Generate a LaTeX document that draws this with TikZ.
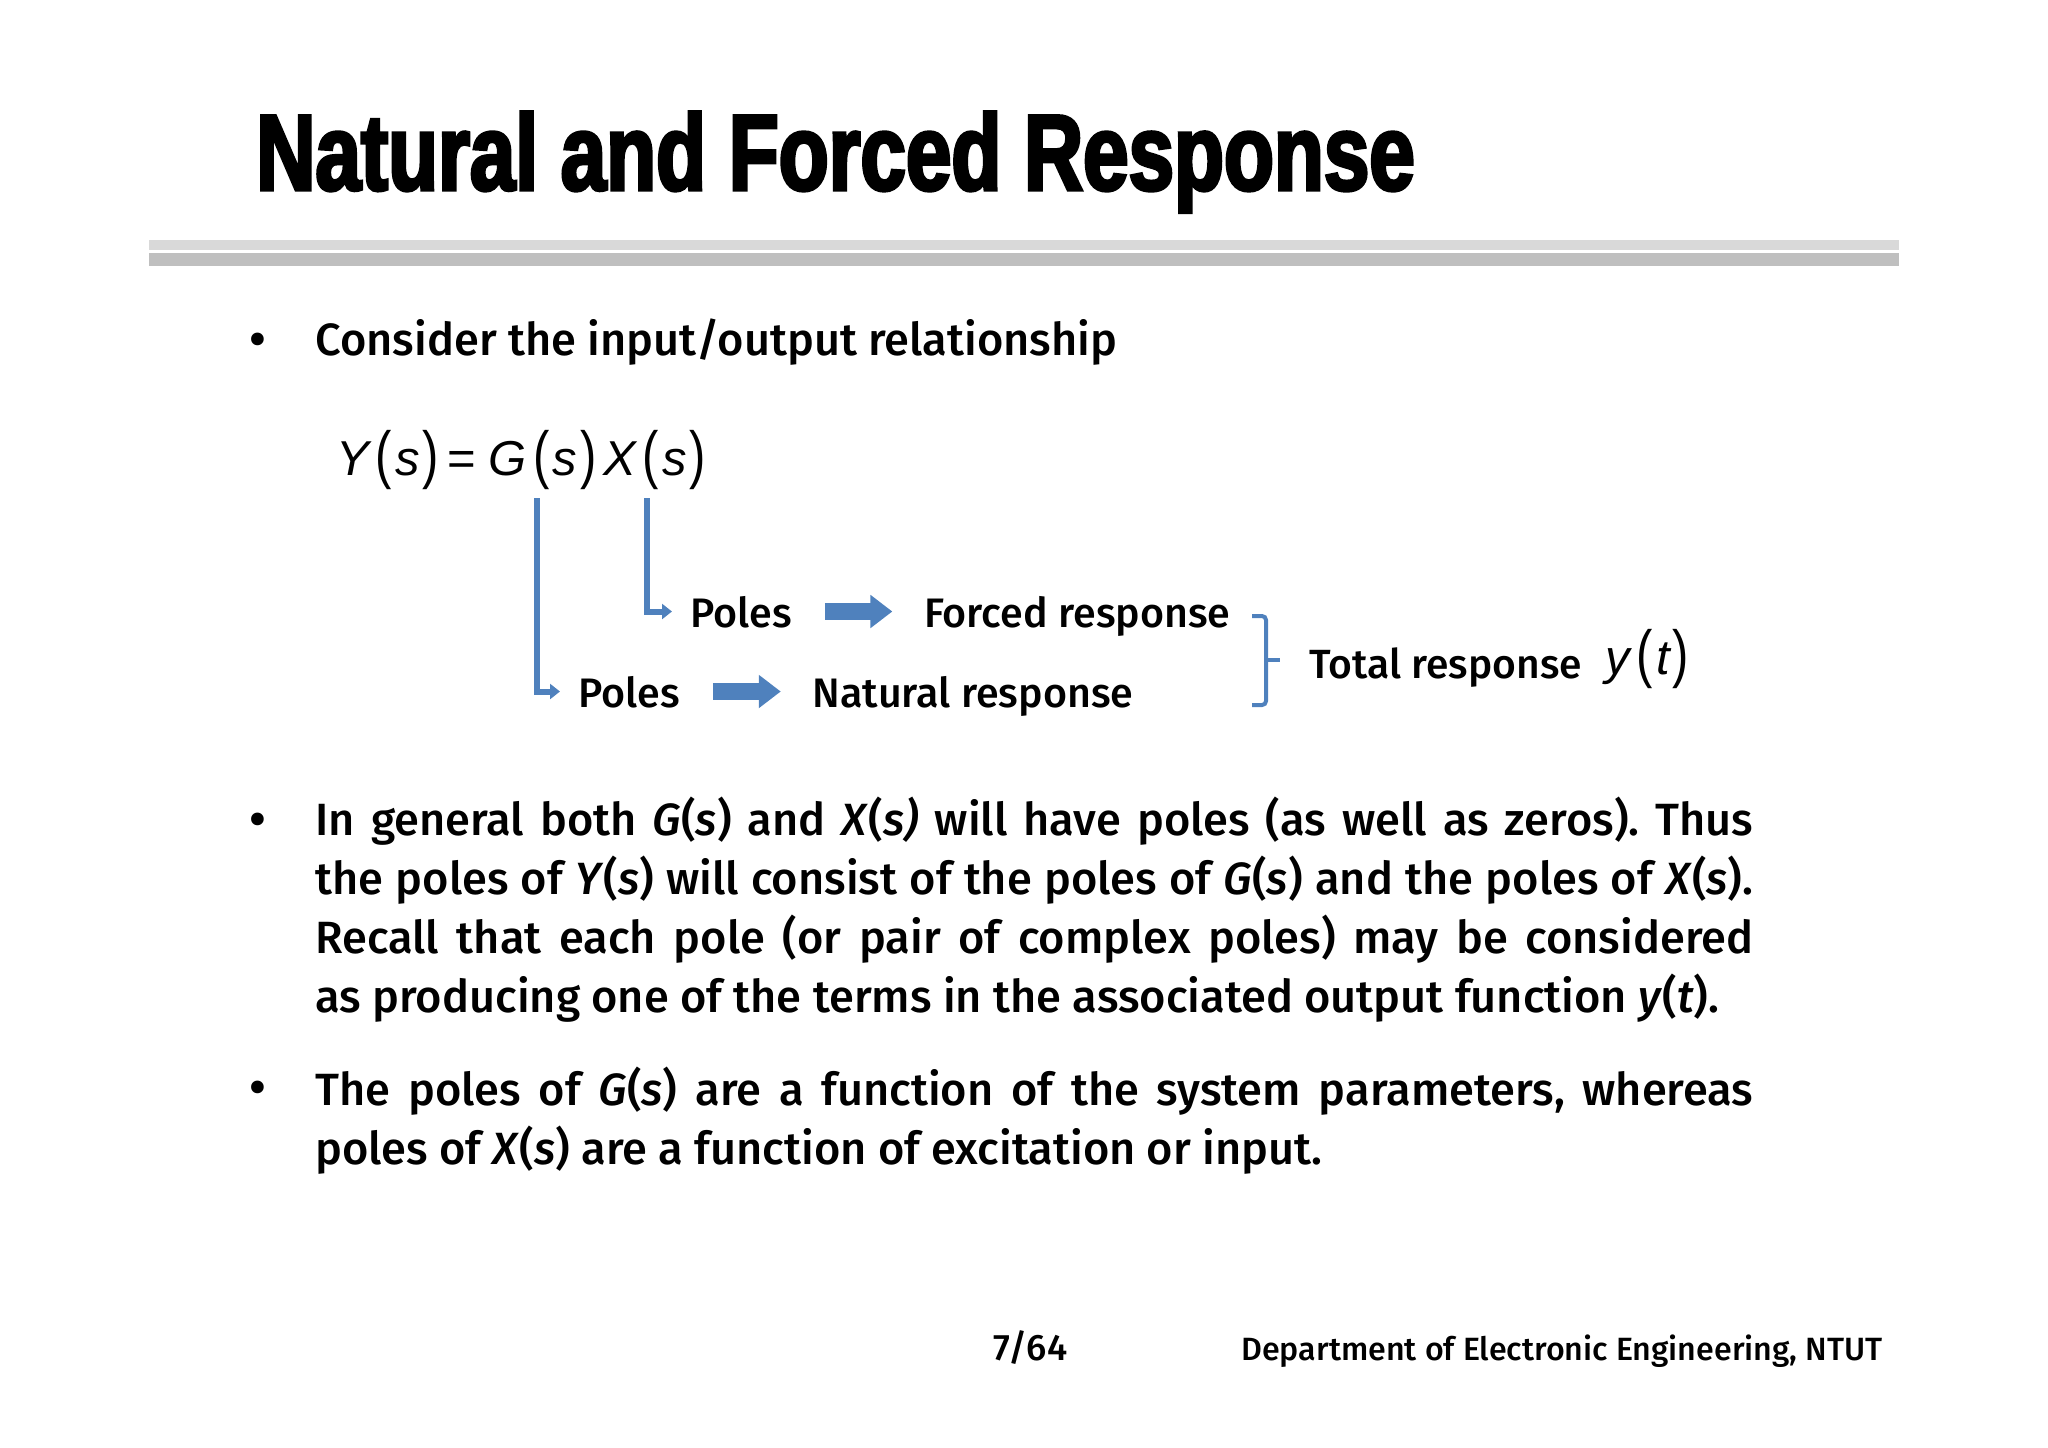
\documentclass[tikz,border=0pt]{standalone}
\usepackage{fontspec}
\setmainfont{Fira Sans Medium}[ItalicFont={Fira Sans Medium Italic}]
\newfontfamily\titlefont[FakeStretch=0.757,FakeBold=3]{Liberation Sans Bold}
\newfontfamily\eqfont{Liberation Sans}
\usetikzlibrary{arrows.meta, calc, positioning}
\definecolor{slideblue}{HTML}{4F81BD}
\newcommand{\lpar}{\kern3.3pt\raisebox{-0.5pt}{\scalebox{1}[1.3]{\upshape(}}\kern1.6pt}
\newcommand{\rpar}{\kern1.6pt\raisebox{-0.5pt}{\scalebox{1}[1.3]{\upshape)}}\kern3.3pt}
\tikzstyle{title} = [inner sep=0pt, anchor=base west, font=\titlefont\fontsize{54}{60}\selectfont]
\tikzstyle{body} = [inner sep=0pt, anchor=north west, text width=719pt, align=justify, font=\frenchspacing\fontsize{22.6}{29.4}\selectfont]
\tikzstyle{bullet} = [inner sep=0pt, anchor=base, font=\fontsize{25}{29.4}\selectfont]
\tikzstyle{item} = [inner sep=5pt, anchor=base west, text height=15.5pt, text depth=0pt, font=\fontsize{20.6}{25}\selectfont]
\tikzstyle{formula} = [inner sep=0pt, anchor=base west, font=\eqfont\fontsize{24.5}{28}\selectfont\itshape]
\tikzstyle{foot} = [inner sep=0pt, anchor=base west, font=\fontsize{16.1}{20}\selectfont]
\tikzstyle{arrow} = [slideblue, line width=3pt, -{Triangle[length=5pt,width=7.5pt]}, shorten >=4pt]
\tikzstyle{bigarrow} = [slideblue, line width=8.5pt, -{Triangle[length=11pt,width=16pt]}, shorten <=11.3pt, shorten >=10.7pt]
\begin{document}
\begin{tikzpicture}[x=0.5pt, y=-0.5pt]
  \useasboundingbox (0,0) rectangle (2048,1447);

  \fill [black!15] (149,240) rectangle (1899,250);
  \fill [black!25] (149,253) rectangle (1899,266);

  \node (head) [title] at (256,190) {Natural and Forced Response};

  \node (bul1) [bullet] at (258,356) {•};
  \node (txt1) [item, inner sep=0pt, font=\fontsize{22.6}{29.4}\selectfont] at (315,355) {Consider the input/output relationship};

  \node (yofs) [formula] at (336,475) {Y\lpar s\rpar\kern1pt{\upshape =}\kern6pt G\lpar s\rpar X\lpar s\rpar};

  \coordinate (gofs) at (537,498);
  \coordinate (xofs) at (647,498);

  \node (pol1) [item] at (680,627) {Poles};
  \node (pol2) [item] at (568,707) {Poles};
  \node (for1) [item, base right=55.8pt of pol1] {Forced response};
  \node (nat1) [item, base right=56pt of pol2] {Natural response};
  \node (tot1) [item, inner sep=0pt, font=\fontsize{20.4}{25}\selectfont] at (1309,678) {Total response};
  \node (yoft) [formula] at (1605,674) {y\lpar t\rpar};

  \draw [arrow] (xofs) |- (pol1);
  \draw [arrow] (gofs) |- (pol2);
  \draw [bigarrow] (pol1) -- (for1);
  \draw [bigarrow] (pol2) -- (nat1);

  \draw [slideblue, line width=2pt, rounded corners=2pt] (1252,616) -- (1266,616) -- (1266,705) -- (1252,705);
  \draw [slideblue, line width=2pt] (1266,660) -- (1280,660);

  \node (bul2) [bullet] at (258,836) {•};
  \node (par1) [body] at (315,797) {In general both \textit{G}(\textit{s}) and \textit{X}(\textit{s)} will have poles (as well as zeros). Thus\linebreak the poles of \textit{Y}(\textit{s}) will consist of the poles of \textit{G}(\textit{s}) and the poles of \textit{X}(\textit{s}).\linebreak Recall that each pole (or pair of complex poles) may be considered\linebreak as producing one of the terms in the associated output function \textit{y}(\textit{t}).};

  \node (bul3) [bullet] at (258,1104) {•};
  \node (par2) [body] at (315,1067) {The poles of \textit{G}(\textit{s}) are a function of the system parameters, whereas\linebreak poles of \textit{X}(\textit{s}) are a function of excitation or input.};

  \node (page) [foot, font=\fontsize{18.4}{20}\selectfont] at (993,1360) {7/64};
  \node (dept) [foot] at (1241,1360) {Department of Electronic Engineering, NTUT};
\end{tikzpicture}
\end{document}
